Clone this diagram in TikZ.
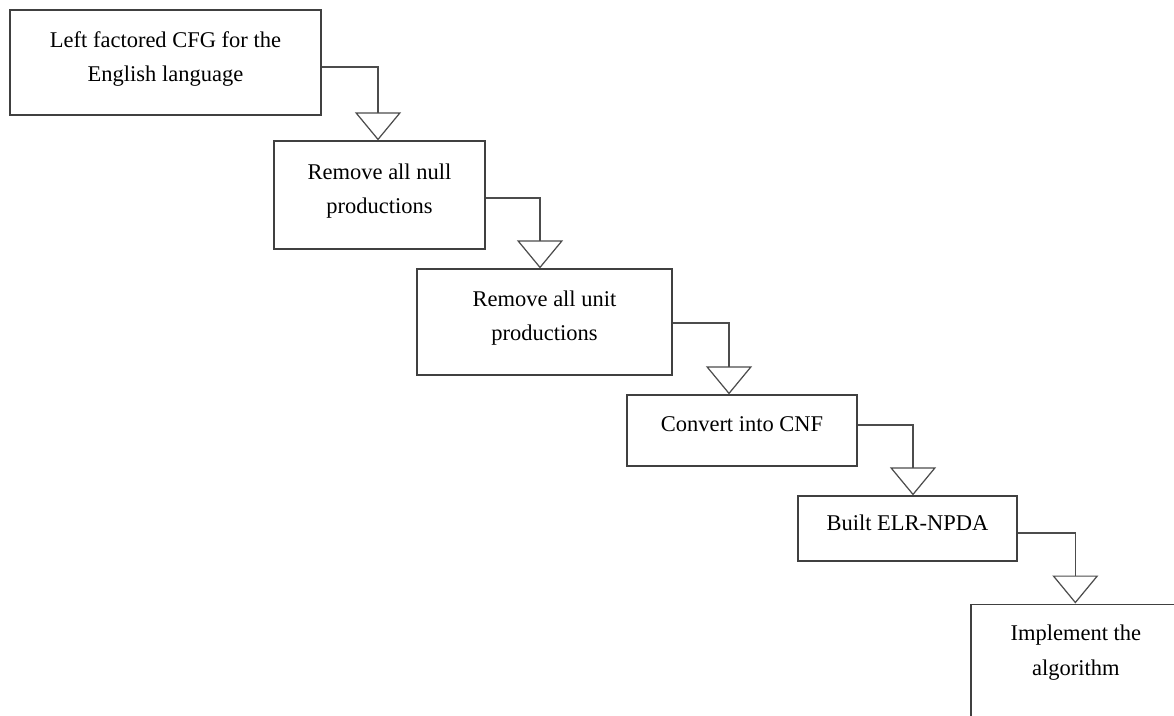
\documentclass[tikz,border=0pt]{standalone}
\usepackage{fontspec}
\setmainfont{Liberation Serif}
\usetikzlibrary{positioning, arrows.meta}
\tikzset{
  stepbox/.style={rectangle, draw=black!75, line width=0.7pt, align=center, text depth=7pt, font=\fontsize{12.8}{19.5}\selectfont},
  flow/.style={draw=black!70, line width=0.7pt, -{Triangle[open, length=0.56cm, width=0.92cm]}}
}

\begin{document}
\begin{tikzpicture}[x=0.02cm, y=-0.02cm]

  % 1. Marco de la figura
  \useasboundingbox (0,0) rectangle (1174,716);
  \clip (0,0) rectangle (1174,716);

  % 2. Cajas de los pasos
  \node[stepbox, minimum width=6.22cm, minimum height=2.1cm] (b1) at (165.5,62.5) {Left factored CFG for the\\English language};
  \node[stepbox, minimum width=4.22cm, minimum height=2.16cm] (b2) at (379.5,195) {Remove all null\\productions};
  \node[stepbox, minimum width=5.1cm, minimum height=2.12cm] (b3) at (544.5,322) {Remove all unit\\productions};
  \node[stepbox, minimum width=4.6cm, minimum height=1.42cm] (b4) at (742,430.5) {Convert into CNF};
  \node[stepbox, minimum width=4.38cm, minimum height=1.3cm] (b5) at (907.5,528.5) {Built ELR-NPDA};
  % la ultima caja se sale del borde
  \node[stepbox, line width=1pt, anchor=north west, minimum width=4.2cm, inner ysep=0.42cm, text depth=3cm] (b6) at (970,603.5) {Implement the\\algorithm};

  % 3. Conectores
  \foreach \from/\to/\dy/\dx in {b1/b2/-0.09/-0.03, b2/b3/-0.06/-0.09, b3/b4/-0.02/-0.26, b4/b5/0.11/0.11, b5/b6/-0.09/-0.01}{
    \draw[flow] ([yshift=\dy cm]\from.east) -| ([xshift=\dx cm]\to.north);
  }

\end{tikzpicture}
\end{document}
